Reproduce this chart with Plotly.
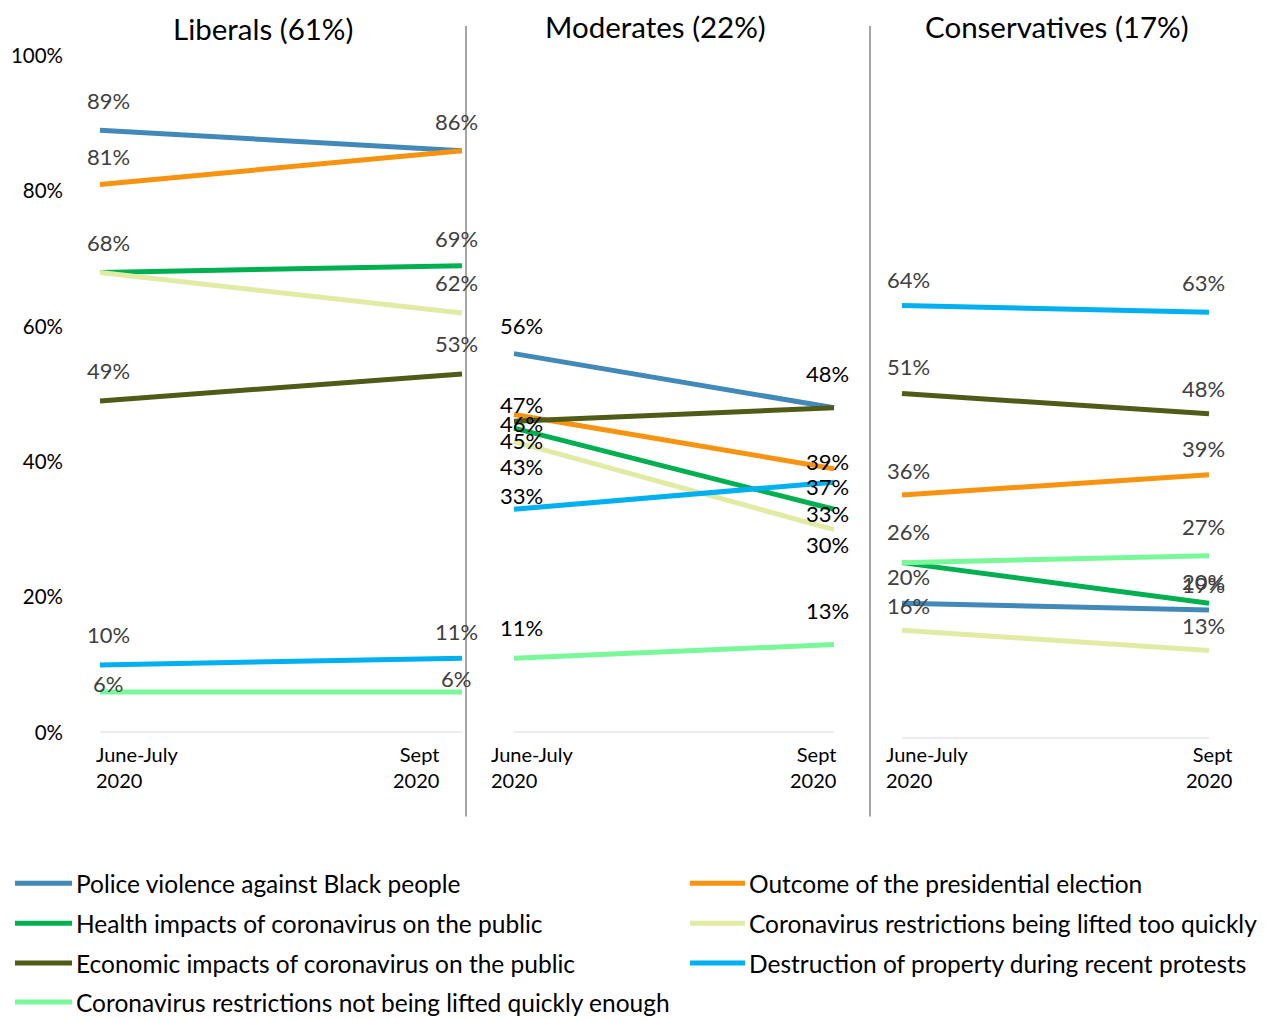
import plotly.graph_objects as go

# ---------------- data ----------------
periods = ["June-July<br>2020", "Sept<br>2020"]
panel_titles = ["Liberals (61%)", "Moderates (22%)", "Conservatives (17%)"]
series_names = [
    "Police violence against Black people",
    "Outcome of the presidential election",
    "Health impacts of coronavirus on the public",
    "Coronavirus restrictions being lifted too quickly",
    "Economic impacts of coronavirus on the public",
    "Destruction of property during recent protests",
    "Coronavirus restrictions not being lifted quickly enough",
]
liberals_june = [89, 81, 68, 68, 49, 10, 6]
liberals_sept = [86, 86, 69, 62, 53, 11, 6]
moderates_june = [56, 47, 45, 43, 46, 33, 11]
moderates_sept = [48, 39, 33, 30, 48, 37, 13]
conservatives_june = [20, 36, 26, 16, 51, 64, 26]
conservatives_sept = [19, 39, 20, 13, 48, 63, 27]
y_ticks = [0, 20, 40, 60, 80, 100]

# ---------------- style ----------------
colors = ["#4189B8", "#F7930F", "#00B050", "#E2EBA3", "#4F5B17", "#00B0F0", "#79F89A"]
W, H = 1279, 1019
FONT = "Lato"

# observed placement of the figure in the captured page (page offset / fitted height)
OFF_X, OFF_Y, PAPER_H = 8, 20, 997


def px_x(p):
    return (p - OFF_X) / W


def px_y(p):
    return 1 - (p - OFF_Y) / PAPER_H


# panel geometry in pixels: domain left, domain right, first point, last point
panels_px = [(64, 466, 100, 462), (466, 870, 514, 834), (870, 1250, 902, 1209)]
# y geometry per panel: pixel of 0 %, pixel of 100 %
panels_py = [(733, 55), (733, 55), (739, 61)]
label_colors = ["#404040", "#000000", "#404040"]
# label offsets (pixels above the point); None = label hidden (overlapping duplicate)
label_off = [
    ([30, 28, 30, None, 31, 30, 8], [29, None, 27, 31, 30, 27, 13]),
    ([28, 10, -12, -25, -2, 14, 31], [34, 7, -4, -15, None, -4, 34]),
    ([27, 24, None, 25, 27, 26, 31], [25, 26, 22, 25, 25, 30, 29]),
]
label_xshift = [(8, -6), (7, -7), (6, -6)]
cat_y = [740, 740, 740]
cat_shift = [(-6, -21), (-25, 4), (-18, 25)]
title_pos = [(263, 28), (655, 26), (1057, 26)]

data = [
    (liberals_june, liberals_sept),
    (moderates_june, moderates_sept),
    (conservatives_june, conservatives_sept),
]

fig = go.Figure()
annotations = []
shapes = []

for p, (june, sept) in enumerate(data):
    xa = "x" if p == 0 else f"x{p + 1}"
    ya = "y" if p == 0 else f"y{p + 1}"
    # x axis line (category axis from first to last category)
    shapes.append(dict(type="line", xref=xa, yref=ya, x0=0, x1=1, y0=0, y1=0,
                       line=dict(color="#D9D9D9", width=2), layer="below"))
    for s, name in enumerate(series_names):
        fig.add_trace(go.Scatter(
            x=[0, 1], y=[june[s], sept[s]], mode="lines", name=name,
            line=dict(color=colors[s], width=5), xaxis=xa, yaxis=ya,
            showlegend=False, hoverinfo="skip",
        ))
        for t, vals in enumerate((june, sept)):
            off = label_off[p][t][s]
            if off is None:
                continue
            annotations.append(dict(
                x=t, y=vals[s], xref=xa, yref=ya, text=f"{vals[s]}%",
                showarrow=False, xanchor="center", yanchor="middle",
                yshift=off, xshift=label_xshift[p][t],
                font=dict(family=FONT, size=22, color=label_colors[p]),
            ))
    # category labels
    annotations.append(dict(
        x=0, y=px_y(cat_y[p]), xref=xa, yref="paper", text=periods[0], showarrow=False,
        xanchor="left", yanchor="top", align="left", xshift=cat_shift[p][0],
        font=dict(family=FONT, size=20, color="#000000"),
    ))
    annotations.append(dict(
        x=1, y=px_y(cat_y[p]), xref=xa, yref="paper", text=periods[1], showarrow=False,
        xanchor="right", yanchor="top", align="right", xshift=cat_shift[p][1],
        font=dict(family=FONT, size=20, color="#000000"),
    ))
    # titles
    annotations.append(dict(
        x=px_x(title_pos[p][0]), y=px_y(title_pos[p][1]), xref="paper", yref="paper",
        text=panel_titles[p], showarrow=False, xanchor="center", yanchor="middle",
        font=dict(family=FONT, size=29.5, color="#000000"),
    ))

# axes
layout_axes = {}
for p, (d0, d1, p0, p1) in enumerate(panels_px):
    span = p1 - p0
    rng = [(d0 - p0) / span, 1 + (d1 - p1) / span]
    key = "xaxis" if p == 0 else f"xaxis{p + 1}"
    ykey = "yaxis" if p == 0 else f"yaxis{p + 1}"
    y0p, y100p = panels_py[p]
    layout_axes[key] = dict(
        domain=[px_x(d0), px_x(d1)], range=rng, showgrid=False, zeroline=False,
        showticklabels=False, showline=False, ticks="", fixedrange=True,
        anchor="y" if p == 0 else f"y{p + 1}",
    )
    layout_axes[ykey] = dict(
        domain=[px_y(y0p), px_y(y100p)], range=[0, 100], showgrid=False, zeroline=False,
        showline=False, ticks="", fixedrange=True,
        showticklabels=(p == 0), tickvals=y_ticks,
        ticktext=[f"{v}%" for v in y_ticks],
        tickfont=dict(family=FONT, size=20.5, color="#000000"),
        anchor="x" if p == 0 else f"x{p + 1}",
    )

# separators
for xp in (466, 870):
    shapes.append(dict(
        type="line", xref="paper", yref="paper", x0=px_x(xp), x1=px_x(xp),
        y0=px_y(25), y1=px_y(817), line=dict(color="#A6A6A6", width=2),
    ))

# manual legend (two columns)
leg_rows = [884, 924, 964, 1003]
leg_cols = [(15, 72), (690, 745)]
for s, name in enumerate(series_names):
    col, row = s % 2, s // 2
    x0, x1 = leg_cols[col]
    yy = px_y(leg_rows[row])
    shapes.append(dict(
        type="line", xref="paper", yref="paper", x0=px_x(x0), x1=px_x(x1),
        y0=yy, y1=yy, line=dict(color=colors[s], width=5),
    ))
    annotations.append(dict(
        x=px_x(x1 + 2), y=yy, xref="paper", yref="paper", text=name,
        showarrow=False, xanchor="left", yanchor="middle",
        font=dict(family=FONT, size=24.5, color="#000000"),
    ))

fig.update_layout(
    width=W, height=H, margin=dict(l=0, r=0, t=0, b=0, pad=0),
    paper_bgcolor="#FFFFFF", plot_bgcolor="#FFFFFF",
    annotations=annotations, shapes=shapes, showlegend=False,
    **layout_axes,
)

fig.write_html("out.html")
